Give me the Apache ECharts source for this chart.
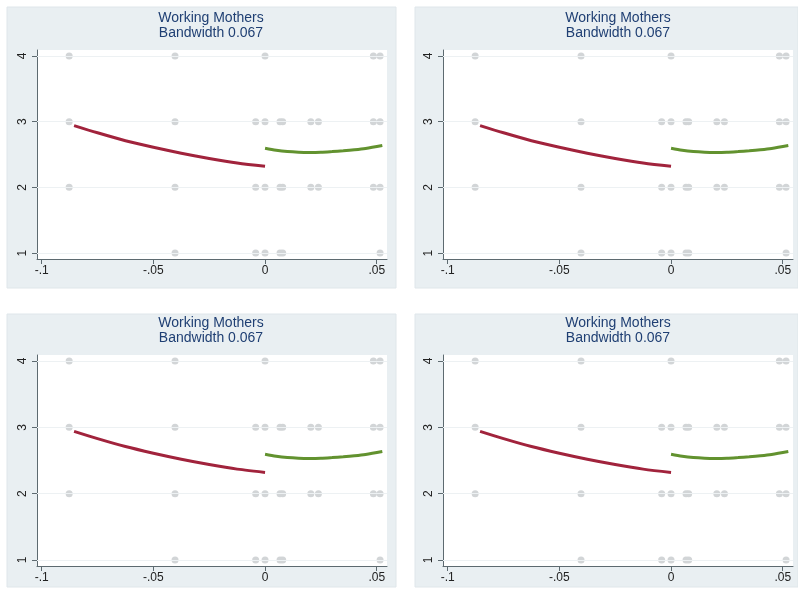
<!DOCTYPE html>
<html>
<head>
<meta charset="utf-8">
<script src="https://cdn.jsdelivr.net/npm/echarts@6/dist/echarts.min.js"></script>
<style>
html,body{margin:0;padding:0;background:#ffffff;}
#c{width:798px;height:591px;}
</style>
</head>
<body>
<div id="c"></div>
<script>
// ---- data ----
var titleText = 'Working Mothers\nBandwidth 0.067';
var xTickValues = [-0.1, -0.05, 0, 0.05];
var xTickLabels = ['-.1', '-.05', '0', '.05'];
var yTickValues = [1, 2, 3, 4];
var yTickLabels = ['1', '2', '3', '4'];

var scatterX = [-0.0877, -0.0403, 0, 0.0485, 0.0515,
  -0.0877, -0.0403, -0.0042, 0, 0.0067, 0.0079, 0.0205, 0.0239, 0.0485, 0.0515,
  -0.0877, -0.0403, -0.0042, 0, 0.0067, 0.0079, 0.0205, 0.0239, 0.0485, 0.0515,
  -0.0403, -0.0042, 0, 0.0067, 0.0079, 0.0515];
var scatterY = [4, 4, 4, 4, 4,
  3, 3, 3, 3, 3, 3, 3, 3, 3, 3,
  2, 2, 2, 2, 2, 2, 2, 2, 2, 2,
  1, 1, 1, 1, 1, 1];

var leftX = [-0.0855, -0.075, -0.0625, -0.05, -0.0375, -0.025, -0.0125, 0];
var leftY = [2.94, 2.83, 2.71, 2.61, 2.52, 2.44, 2.37, 2.32];

var rightX = [0, 0.005, 0.01, 0.015, 0.02, 0.025, 0.03, 0.035, 0.04, 0.045, 0.0525];
var rightY = [2.595, 2.565, 2.545, 2.535, 2.532, 2.535, 2.545, 2.557, 2.572, 2.592, 2.637];

// ---- layout ----
var panels = [
  {box:[7,7,389,281],   grid:{left:37, top:50, width:350, height:209}, tx:211, ty:11},
  {box:[415,7,383,281], grid:{left:443, top:50, width:350, height:209}, tx:618, ty:11},
  {box:[7,314,389,273], grid:{left:37, top:355, width:350, height:211}, tx:211, ty:316},
  {box:[415,314,383,273], grid:{left:443, top:355, width:350, height:211}, tx:618, ty:316}
];

function zip(a, b){ var r=[]; for(var i=0;i<a.length;i++) r.push([a[i], b[i]]); return r; }
function lookup(vals, labels, v){ for(var i=0;i<vals.length;i++){ if(Math.abs(vals[i]-v)<1e-9) return labels[i]; } return ''; }

var FONT = 'Liberation Sans, Arial, sans-serif';
var grids=[], xAxes=[], yAxes=[], series=[], titles=[], graphics=[];
panels.forEach(function(p, i){
  graphics.push({type:'rect', shape:{x:p.box[0], y:p.box[1], width:p.box[2], height:p.box[3]},
    style:{fill:'#e9eff2', stroke:'#dfe6ea', lineWidth:1}, z:-10, silent:true});
  graphics.push({type:'rect', shape:{x:p.grid.left, y:p.grid.top, width:p.grid.width, height:p.grid.height},
    style:{fill:'#ffffff'}, z:-9, silent:true});
  titles.push({text:titleText, left:p.tx, top:p.ty, textAlign:'center', padding:0,
    textStyle:{fontFamily:FONT, fontSize:14, fontWeight:'normal', color:'#1f3f73', lineHeight:15}});
  grids.push({left:p.grid.left, top:p.grid.top, width:p.grid.width, height:p.grid.height, containLabel:false});
  xAxes.push({type:'value', gridIndex:i, min:-0.1021, max:0.0546,
    axisLine:{show:true, onZero:false, lineStyle:{color:'#5d6a70', width:1}},
    axisTick:{show:true, length:5, customValues:xTickValues, lineStyle:{color:'#5d6a70'}},
    axisLabel:{customValues:xTickValues, margin:6, color:'#222', fontSize:12, fontFamily:FONT,
      formatter:function(v){ return lookup(xTickValues, xTickLabels, v); }},
    splitLine:{show:false}});
  yAxes.push({type:'value', gridIndex:i, min:0.91, max:4.09,
    axisLine:{show:true, onZero:false, lineStyle:{color:'#5d6a70', width:1}},
    axisTick:{show:true, length:5, customValues:yTickValues, lineStyle:{color:'#5d6a70'}},
    axisLabel:{customValues:yTickValues, rotate:90, margin:8, color:'#222', fontSize:12, fontFamily:FONT,
      formatter:function(v){ return lookup(yTickValues, yTickLabels, v); }},
    splitLine:{show:false}});
  // faint gridlines at the y ticks, drawn beneath the dots
  series.push({type:'line', xAxisIndex:i, yAxisIndex:i, data:[], z:1, silent:true,
    markLine:{silent:true, symbol:'none', label:{show:false}, lineStyle:{color:'#edf1f3', type:'solid', width:1},
      data:yTickValues.map(function(v){ return {yAxis:v}; })}});
  series.push({type:'scatter', xAxisIndex:i, yAxisIndex:i, data:zip(scatterX, scatterY), symbolSize:7,
    itemStyle:{color:'#d2d5d7', opacity:1, borderWidth:0}, z:2, silent:true});
  series.push({type:'line', xAxisIndex:i, yAxisIndex:i, data:zip(leftX, leftY), showSymbol:false, smooth:0.3,
    lineStyle:{color:'#a1233c', width:3}, z:4, silent:true});
  series.push({type:'line', xAxisIndex:i, yAxisIndex:i, data:zip(rightX, rightY), showSymbol:false, smooth:0.3,
    lineStyle:{color:'#62922f', width:3}, z:4, silent:true});
});

var chart = echarts.init(document.getElementById('c'), null, {renderer:'canvas'});
chart.setOption({
  animation:false,
  backgroundColor:'#ffffff',
  title:titles,
  grid:grids,
  xAxis:xAxes,
  yAxis:yAxes,
  series:series,
  graphic:graphics
});
</script>
</body>
</html>
